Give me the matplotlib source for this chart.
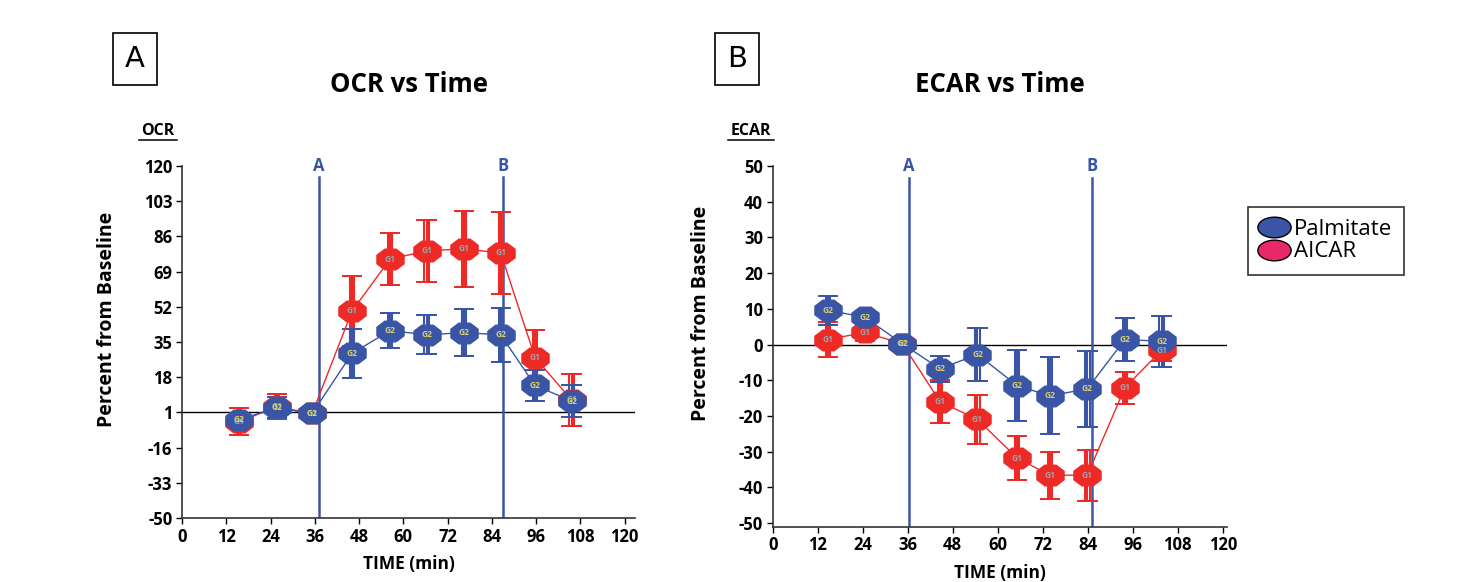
import numpy as np
import matplotlib
matplotlib.use("Agg")
import matplotlib.pyplot as plt
from matplotlib.path import Path
from matplotlib.lines import Line2D
from matplotlib.transforms import offset_copy

plt.rcParams['font.family'] = ['Open Sans', 'DejaVu Sans']
plt.rcParams['axes.unicode_minus'] = False

BLUE = "#3a55a5"
RED = "#ee2a27"
PINK = "#e8286a"

# ---- Panel A: OCR ----
ocr_time = [15.5, 25.7, 35.3, 46.1, 56.4, 66.3, 76.4, 86.4, 95.7, 105.6]
ocr_palm = [-2.5, 3.2, 0.5, 29.5, 40.5, 38.5, 39.5, 38.5, 14.0, 6.5]
ocr_palm_err = [3, 5, 1, 12, 8.5, 9.5, 11.5, 13, 7.5, 7.5]
ocr_aicar = [-3.5, 3.7, 0.5, 50, 75, 79, 80, 78, 27.5, 7]
ocr_aicar_err = [6.5, 6, 1, 17, 12.5, 15, 18.5, 20, 13.5, 12.5]
ocr_ticks = [120, 103, 86, 69, 52, 35, 18, 1, -16, -33, -50]
ocr_inject = [37.1, 87.0]

# ---- Panel B: ECAR ----
ecar_time = [14.8, 24.6, 34.6, 44.6, 54.6, 65.2, 73.9, 83.9, 93.9, 103.7]
ecar_palm = [9.6, 7.6, 0.2, -6.8, -2.8, -11.5, -14.4, -12.4, 1.4, 0.9]
ecar_palm_err = [4, 1.5, 0.8, 3.7, 7.3, 10, 10.8, 10.7, 6.1, 7.2]
ecar_aicar = [1.4, 3.4, 0.2, -16, -21, -31.8, -36.6, -36.6, -12.1, -1.6]
ecar_aicar_err = [5, 2.5, 0.8, 6, 6.8, 6.2, 6.6, 7.1, 4.5, 3]
ecar_ticks = [50, 40, 30, 20, 10, 0, -10, -20, -30, -40, -50]
ecar_inject = [36.3, 85.2]

x_ticks = [0, 12, 24, 36, 48, 60, 72, 84, 96, 108, 120]

# octagon marker, wider than tall
ang = np.deg2rad(np.arange(8) * 45 + 22.5)
verts = np.column_stack([np.cos(ang), 0.76 * np.sin(ang)])
octagon = Path(np.vstack([verts, verts[:1]]), closed=True)
ell_ang = np.linspace(0, 2 * np.pi, 40)
ellipse = Path(np.column_stack([np.cos(ell_ang), 0.62 * np.sin(ell_ang)]), closed=True)


def series(ax, fig, t, y, err, color, tag, tcolor):
    # striped error bars: three thin parallel bars
    for dx in (-2.2, 0, 2.2):
        tr = offset_copy(ax.transData, fig=fig, x=dx, y=0, units='dots')
        ax.errorbar(t, y, yerr=err, fmt='none', ecolor=color, elinewidth=1.5,
                    capsize=5.5, capthick=1.4, transform=tr, zorder=3)
    ax.plot(t, y, color=color, lw=1.0, zorder=4)
    ax.plot(t, y, ls='none', marker=octagon, ms=19.5, mfc=color, mec=color,
            zorder=5)
    for xi, yi in zip(t, y):
        ax.text(xi, yi, tag, fontsize=6, color=tcolor, ha='center',
                va='center', zorder=6, fontweight='bold')


def panel(ax, fig, title, t, palm, palm_err, aicar, aicar_err,
          ticks, inject, xmax, ylim, zero, vtop):
    for s in ['top', 'right']:
        ax.spines[s].set_visible(False)
    for s in ['left', 'bottom']:
        ax.spines[s].set_color('#333333')
        ax.spines[s].set_linewidth(1.2)
    ax.set_xlim(0, xmax)
    ax.set_ylim(*ylim)
    ax.set_xticks(x_ticks)
    ax.set_yticks(ticks)
    ax.tick_params(direction='out', length=4, width=1, labelsize=12, pad=3)
    for lab in ax.get_xticklabels() + ax.get_yticklabels():
        lab.set_fontweight('bold')
    ax.axhline(zero, color='black', lw=1, zorder=2)
    for xv, lbl in zip(inject, ['A', 'B']):
        ax.axvline(xv, ymax=vtop, color=BLUE, lw=1.8, zorder=2)
        ax.text(xv, 1.0, lbl, color=BLUE, transform=ax.get_xaxis_transform(),
                fontsize=12, fontweight='bold', ha='center', va='center')
    series(ax, fig, t, aicar, aicar_err, RED, 'G1', '#9aa8a8')
    series(ax, fig, t, palm, palm_err, BLUE, 'G2', '#d8d070')
    ax.set_title(title, fontsize=18.5, fontweight='bold', pad=53)
    ax.set_xlabel('TIME (min)', fontsize=12.5, fontweight='bold', labelpad=7)
    ax.set_ylabel('Percent from Baseline', fontsize=14, fontweight='bold')


fig = plt.figure(figsize=(14.57, 5.82), dpi=100)
W, H = 1457.0, 582.0

axA = fig.add_axes([182 / W, 1 - 518 / H, (635 - 182) / W, (518 - 166) / H])
axB = fig.add_axes([772.7 / W, 1 - 526.6 / H, (1226.5 - 772.7) / W, (526.6 - 166) / H])

panel(axA, fig, 'OCR vs Time', ocr_time, ocr_palm, ocr_palm_err,
      ocr_aicar, ocr_aicar_err, ocr_ticks, ocr_inject, 122.8, (-50, 120), 1, 0.969)
panel(axB, fig, 'ECAR vs Time', ecar_time, ecar_palm, ecar_palm_err,
      ecar_aicar, ecar_aicar_err, ecar_ticks, ecar_inject, 121, (-51, 50), 0, 0.967)

axA.yaxis.set_label_coords(-0.143, 0.565)
axB.yaxis.set_label_coords(-0.135, 0.59)

# small underlined labels above y axes
for cx, txt, x0, x1 in [(158, 'OCR', 139, 177), (751, 'ECAR', 728, 774)]:
    fig.text(cx / W, 1 - 131 / H, txt, fontsize=11.5, fontweight='bold',
             ha='center', va='center')
    fig.add_artist(Line2D([x0 / W, x1 / W], [1 - 140 / H, 1 - 140 / H],
                          color='black', lw=1.1))

# panel letters in boxes
for cx, letter in [(135, 'A'), (737, 'B')]:
    fig.text(cx / W, 1 - 59 / H, letter, fontsize=21, ha='center', va='center',
             family='DejaVu Sans',
             bbox=dict(boxstyle='square,pad=0.42', fc='white', ec='black', lw=1.2))

# legend
handles = [Line2D([], [], ls='none', marker=ellipse, ms=24, mfc=BLUE, mec='black', mew=1),
           Line2D([], [], ls='none', marker=ellipse, ms=24, mfc=PINK, mec='black', mew=1)]
leg = fig.legend(handles, ['Palmitate', 'AICAR'], loc='upper left',
                 bbox_to_anchor=(1248 / W, 1 - 207 / H), fontsize=16,
                 frameon=True, fancybox=False, edgecolor='black',
                 handlelength=1.2, handletextpad=0.3, labelspacing=0.05,
                 borderpad=0.55, borderaxespad=0)
leg.get_frame().set_linewidth(1.2)

fig.savefig('out.png', dpi=100)
